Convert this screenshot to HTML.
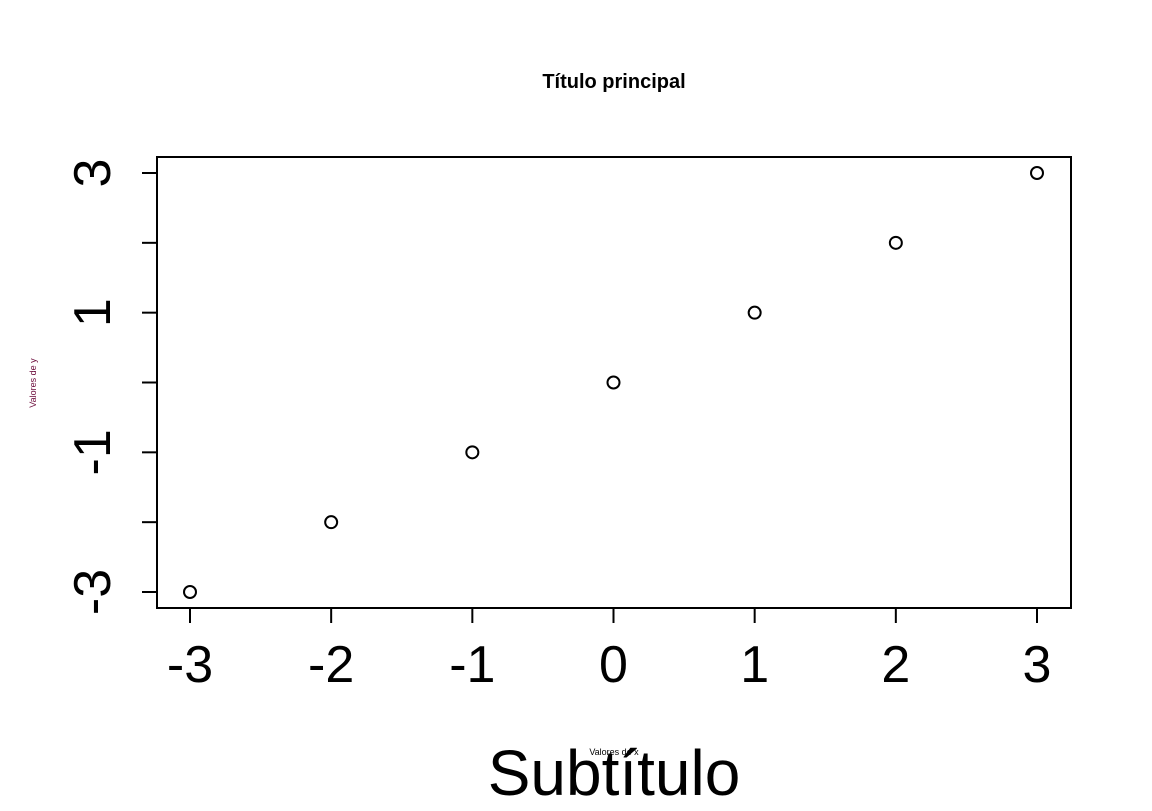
<!DOCTYPE html>
<html><head><meta charset="utf-8"><style>
html,body{margin:0;padding:0;background:#fff;}
text{font-family:"Liberation Sans",Arial,sans-serif;}
</style></head><body>
<svg id="chart" width="1152" height="806" viewBox="0 0 1152 806" xmlns="http://www.w3.org/2000/svg">
<rect width="1152" height="806" fill="#fff"/>
<text x="614" y="88" font-size="20" font-weight="bold" text-anchor="middle">Título principal</text>
<rect x="157" y="157" width="914" height="451" fill="none" stroke="#000" stroke-width="2"/>
<g id="xaxis"></g>
<g id="yaxis"></g>
<g id="points"></g>
<text x="614" y="755" font-size="9" text-anchor="middle">Valores de x</text>
<text x="36" y="383" font-size="9" fill="#6b0a3a" text-anchor="middle" transform="rotate(-90 36 383)">Valores de y</text>
<text x="614" y="795" font-size="64" text-anchor="middle">Subtítulo</text>
</svg>
<script>
const xValues=[-3,-2,-1,0,1,2,3];
const yValues=[-3,-2,-1,0,1,2,3];
const xTicks=[-3,-2,-1,0,1,2,3];
const yTicks=[-3,-2,-1,0,1,2,3];
const yTickLabels=["-3","","-1","","1","","3"];
const NS="http://www.w3.org/2000/svg";
const xs=v=>190+(v+3)*(1037-190)/6;
const ys=v=>592-(v+3)*(592-173)/6;
function mk(tag,attrs,parent){const e=document.createElementNS(NS,tag);for(const k in attrs)e.setAttribute(k,attrs[k]);parent.appendChild(e);return e;}
const xa=document.getElementById('xaxis'),ya=document.getElementById('yaxis'),pts=document.getElementById('points');
xTicks.forEach(t=>{
  const l=mk('line',{x1:xs(t),x2:xs(t),y1:608,y2:623,stroke:'#000','stroke-width':2},xa);
  
  
  const tx=mk('text',{x:xs(t),y:682,'font-size':52,'text-anchor':'middle'},xa);
  tx.textContent=String(t);
  
  
});
yTicks.forEach((t,i)=>{
  const l=mk('line',{x1:142,x2:157,y1:ys(t),y2:ys(t),stroke:'#000','stroke-width':2},ya);
  
  
  if(yTickLabels[i]){
    const tx=mk('text',{x:110,y:ys(t),'font-size':52,'text-anchor':'middle',transform:`rotate(-90 110 ${ys(t)})`},ya);
    tx.textContent=yTickLabels[i];
    
    
  }
});
xValues.forEach((x,i)=>{
  const c=mk('circle',{cx:xs(x),cy:ys(yValues[i]),r:6,fill:'none',stroke:'#000','stroke-width':2},pts);
  
  
});
</script>
</body></html>
